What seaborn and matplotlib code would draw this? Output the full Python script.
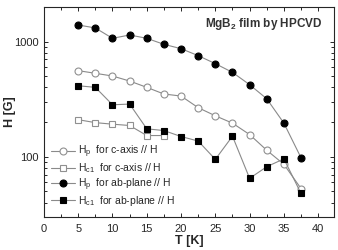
import numpy as np
import pandas as pd
import seaborn as sns
import matplotlib.pyplot as plt
from matplotlib.ticker import MultipleLocator, FixedLocator, NullFormatter

temps = [5, 7.5, 10, 12.5, 15, 17.5, 20, 22.5, 25, 27.5, 30, 32.5, 35, 37.5]
hp_c = [560, 531, 503, 455, 401, 351, 337, 267, 227, 196, 156, 114, 86, 53]
temps_hc1_c = [5, 7.5, 10, 12.5, 15, 17.5]
hc1_c = [210, 198, 192, 187, 153, 153]
hp_ab = [1396, 1315, 1069, 1143, 1069, 948, 869, 756, 644, 541, 423, 319, 196, 98]
hc1_ab = [414, 401, 283, 287, 175, 169, 150, 137, 95, 151, 65, 82, 96, 48]

labels = [r'H$_{\rm p}$  for c-axis // H', r'H$_{\rm c1}$  for c-axis // H',
          r'H$_{\rm p}$  for ab-plane // H', r'H$_{\rm c1}$  for ab-plane // H']

sns.set_style('ticks')
plt.rcParams['font.family'] = ['Liberation Sans', 'DejaVu Sans']
plt.rcParams['mathtext.fontset'] = 'custom'
plt.rcParams['mathtext.rm'] = 'Liberation Sans'
plt.rcParams['mathtext.bf'] = 'Liberation Sans:bold'

fig = plt.figure(figsize=(3.38, 2.5), dpi=100)
ax = fig.add_axes([0.130, 0.132, 0.858, 0.840])

line_col = '#8a8a8a'
series = [
    (temps, hp_c, 'o', 'white', '#909090'),
    (temps_hc1_c, hc1_c, 's', 'white', '#909090'),
    (temps, hp_ab, 'o', 'black', 'black'),
    (temps, hc1_ab, 's', 'black', 'black'),
]
for (x, y, m, fc, ec), lab in zip(series, labels):
    sns.lineplot(x=x, y=y, ax=ax, marker=m, markersize=5, markerfacecolor=fc,
                 markeredgecolor=ec, markeredgewidth=0.8, color=line_col,
                 linewidth=0.8, label=lab)

ax.set_yscale('log')
ax.set_xlim(0, 42.3)
ax.set_ylim(30, 2000)
ax.xaxis.set_major_locator(MultipleLocator(5))
ax.xaxis.set_minor_locator(MultipleLocator(2.5))
ax.yaxis.set_major_locator(FixedLocator([100, 1000]))
ax.yaxis.set_major_formatter(plt.FuncFormatter(lambda v, p: '%d' % v))
ax.yaxis.set_minor_locator(FixedLocator([40, 50, 60, 70, 80, 90, 200, 300, 400, 500, 600, 700, 800, 900]))
ax.yaxis.set_minor_formatter(NullFormatter())
ax.tick_params(which='both', direction='in', top=True, right=True, labelsize=8, width=0.7)
ax.tick_params(which='major', length=3)
ax.tick_params(which='minor', length=2)
ax.tick_params(axis='x', pad=5)
for s in ax.spines.values():
    s.set_linewidth(0.8)

ax.set_xlabel('T [K]', fontsize=9, fontweight='bold', labelpad=1)
ax.set_ylabel('H [G]', fontsize=9, fontweight='bold', va='center')
ax.yaxis.set_label_coords(-0.117, 0.5)
ax.text(0.96, 0.917, r'MgB$_{\bf 2}$ film by HPCVD', transform=ax.transAxes,
        ha='right', va='center', fontsize=8.5, fontweight='bold', color='#333333')

ax.legend(loc='lower left', frameon=False, fontsize=7.5, handlelength=2.3,
          handletextpad=0.3, labelspacing=0.1, borderaxespad=0.3,
          bbox_to_anchor=(0.0, 0.01))

fig.savefig('out.png', dpi=100)
